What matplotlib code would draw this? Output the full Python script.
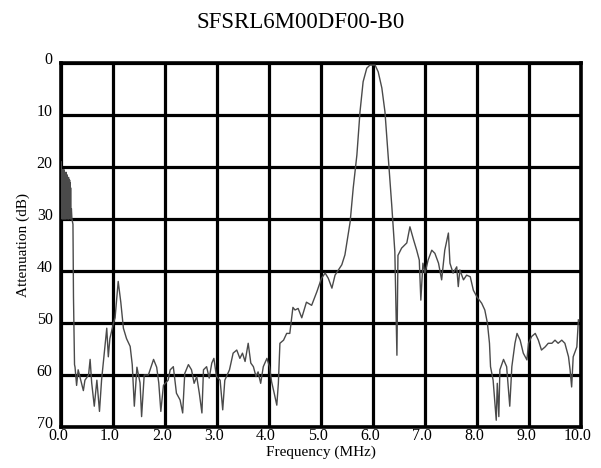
import matplotlib
matplotlib.use("Agg")
import matplotlib.pyplot as plt
import matplotlib.transforms as mtransforms

plt.rcParams["font.family"] = ["Liberation Serif", "DejaVu Serif"]

title = "SFSRL6M00DF00-B0"
x_label = "Frequency (MHz)"
y_label = "Attenuation (dB)"

x_ticks = [0, 1, 2, 3, 4, 5, 6, 7, 8, 9, 10]
x_tick_labels = ["0.0", "1.0", "2.0", "3.0", "4.0", "5.0", "6.0", "7.0", "8.0", "9.0", "10.0"]
y_ticks = [0, 10, 20, 30, 40, 50, 60, 70]

# traced response (frequency in MHz, attenuation in dB)
freq_mhz = [
    0.005, 0.01, 0.015, 0.02, 0.025, 0.03, 0.035, 0.04, 0.045, 0.05, 0.055, 0.06, 0.065,
    0.07, 0.075, 0.08, 0.085, 0.09, 0.095, 0.10, 0.105, 0.11, 0.115, 0.12, 0.125, 0.13,
    0.135, 0.14, 0.145, 0.15, 0.155, 0.16, 0.165, 0.17, 0.175, 0.18, 0.185, 0.19, 0.20,
    0.21, 0.22, 0.23, 0.24,
    0.26, 0.27, 0.30, 0.33, 0.38, 0.43, 0.46, 0.53, 0.56, 0.59, 0.64, 0.69, 0.74, 0.78,
    0.85, 0.88, 0.91, 0.94, 1.01, 1.04, 1.10, 1.15, 1.20, 1.26, 1.33, 1.37, 1.41, 1.46,
    1.52, 1.55, 1.60, 1.68, 1.78, 1.84, 1.88, 1.92, 1.97, 2.06, 2.10, 2.16, 2.22, 2.29,
    2.34, 2.38, 2.45, 2.51, 2.56, 2.61, 2.66, 2.71, 2.74, 2.80, 2.85, 2.90, 2.94, 2.99,
    3.06, 3.11, 3.15, 3.24, 3.31, 3.38, 3.44, 3.49, 3.54, 3.60, 3.65, 3.70, 3.75, 3.79,
    3.84, 3.89, 3.96, 4.01, 4.05, 4.10, 4.15, 4.18, 4.21, 4.28, 4.34, 4.40, 4.46, 4.50,
    4.56, 4.63, 4.72, 4.82, 4.92, 5.01, 5.08, 5.14, 5.21, 5.27, 5.40, 5.46, 5.56, 5.62,
    5.69, 5.75, 5.81, 5.88, 5.94, 6.04, 6.10, 6.17, 6.23, 6.29, 6.36, 6.42, 6.46, 6.48,
    6.55, 6.65, 6.71, 6.78, 6.84, 6.89, 6.92, 6.96, 7.00, 7.06, 7.13, 7.19, 7.26, 7.32,
    7.38, 7.45, 7.48, 7.54, 7.61, 7.64, 7.67, 7.74, 7.80, 7.87, 7.93, 8.00, 8.09, 8.15,
    8.20, 8.24, 8.26, 8.31, 8.35, 8.37, 8.39, 8.42, 8.44, 8.51, 8.57, 8.63, 8.67, 8.73,
    8.77, 8.83, 8.89, 8.96, 8.99, 9.05, 9.12, 9.18, 9.24, 9.31, 9.37, 9.44, 9.50, 9.56,
    9.63, 9.69, 9.76, 9.79, 9.82, 9.85, 9.92, 9.95,
]
atten_db = [
    19, 29, 21, 30, 20.5, 29.5, 21, 30, 21.5, 29, 20.5, 30, 21,
    29.5, 21.5, 30, 22, 29, 21, 30, 22, 29.5, 21.5, 29, 22, 30,
    22.5, 29, 22, 30, 23, 29.5, 22.5, 29, 23, 30, 24, 29.5, 28,
    30, 30.5, 31, 45,
    58, 58.5, 62, 59, 61, 63, 61, 60, 57, 61.5, 66, 61, 67, 61,
    54, 51, 56.5, 53, 50, 49, 42, 46, 51, 53, 54.5, 58, 66, 58.5,
    61.5, 68, 60, 60, 57, 58.5, 61.5, 67, 62, 61, 59, 58.4, 63.5, 64.8,
    67.3, 59.7, 58, 59, 61.6, 60.3, 63.5, 67.3, 59, 58.4, 60.6, 57.7, 56.8, 60.3,
    61, 66.7, 61, 59, 55.8, 55.2, 56.8, 55.8, 57.4, 53.9, 57.7, 58.4, 60.3, 59.4,
    61.6, 58.4, 56.8, 58.4, 61.3, 63.5, 65.8, 61.6, 53.9, 53.3, 52, 52, 47, 47.5,
    47.2, 49, 46, 46.6, 44, 41.4, 40.4, 41.4, 43.3, 40.8, 38.8, 36.9, 30.6, 24,
    17.7, 9.4, 3.6, 1, 0.4, 0.4, 1.7, 4.8, 9.4, 17.7, 27.3, 36.3, 56.2, 37,
    35.6, 34.6, 31.5, 34, 36, 37.9, 45.6, 38.5, 40.4, 37.9, 36, 36.6, 38.5, 41.7,
    36, 32.7, 38.5, 40.4, 39.2, 43, 39.8, 41.7, 40.8, 41.1, 43.7, 45, 46.2, 47.5,
    50, 53.9, 58.4, 61, 66, 68.7, 61.6, 68, 59, 57, 58.4, 66, 58.4, 53.9,
    52, 53.3, 55.8, 57.1, 53.9, 52.6, 52, 53.3, 55.2, 54.6, 53.9, 53.9, 53.3, 53.9,
    53.3, 53.9, 56.5, 59, 62.3, 56.5, 54.6, 49.4,
]

fig = plt.figure(figsize=(6.01, 4.68), dpi=100)
ax = fig.add_axes([61 / 601, 41 / 468, 520 / 601, 364 / 468])

ax.plot(freq_mhz, atten_db, color="#4a4a4a", linewidth=1.0, zorder=3)

ax.set_xlim(0, 10)
ax.set_ylim(70, 0)
ax.set_xticks(x_ticks)
ax.set_xticklabels(x_tick_labels)
ax.set_yticks(y_ticks)
ax.grid(True, color="black", linewidth=2.3, zorder=2)
ax.set_axisbelow(True)
for s in ax.spines.values():
    s.set_linewidth(2.6)
ax.tick_params(length=0, labelsize=11.5)
ax.tick_params(axis="y", pad=6)
ax.tick_params(axis="x", pad=1)

# y labels sit slightly above their grid lines, x labels a touch left
shift_y = mtransforms.ScaledTranslation(0, 5 / 100, fig.dpi_scale_trans)
for lbl in ax.get_yticklabels():
    lbl.set_transform(lbl.get_transform() + shift_y)
shift_x = mtransforms.ScaledTranslation(-3 / 100, 0, fig.dpi_scale_trans)
for lbl in ax.get_xticklabels():
    lbl.set_transform(lbl.get_transform() + shift_x)

ax.set_xlabel(x_label, fontsize=11, labelpad=1)
ax.set_ylabel(y_label, fontsize=11, labelpad=5)
fig.text(0.5, 1 - 22 / 468, title, ha="center", va="center", fontsize=16.5)

fig.savefig("out.png", dpi=100)
